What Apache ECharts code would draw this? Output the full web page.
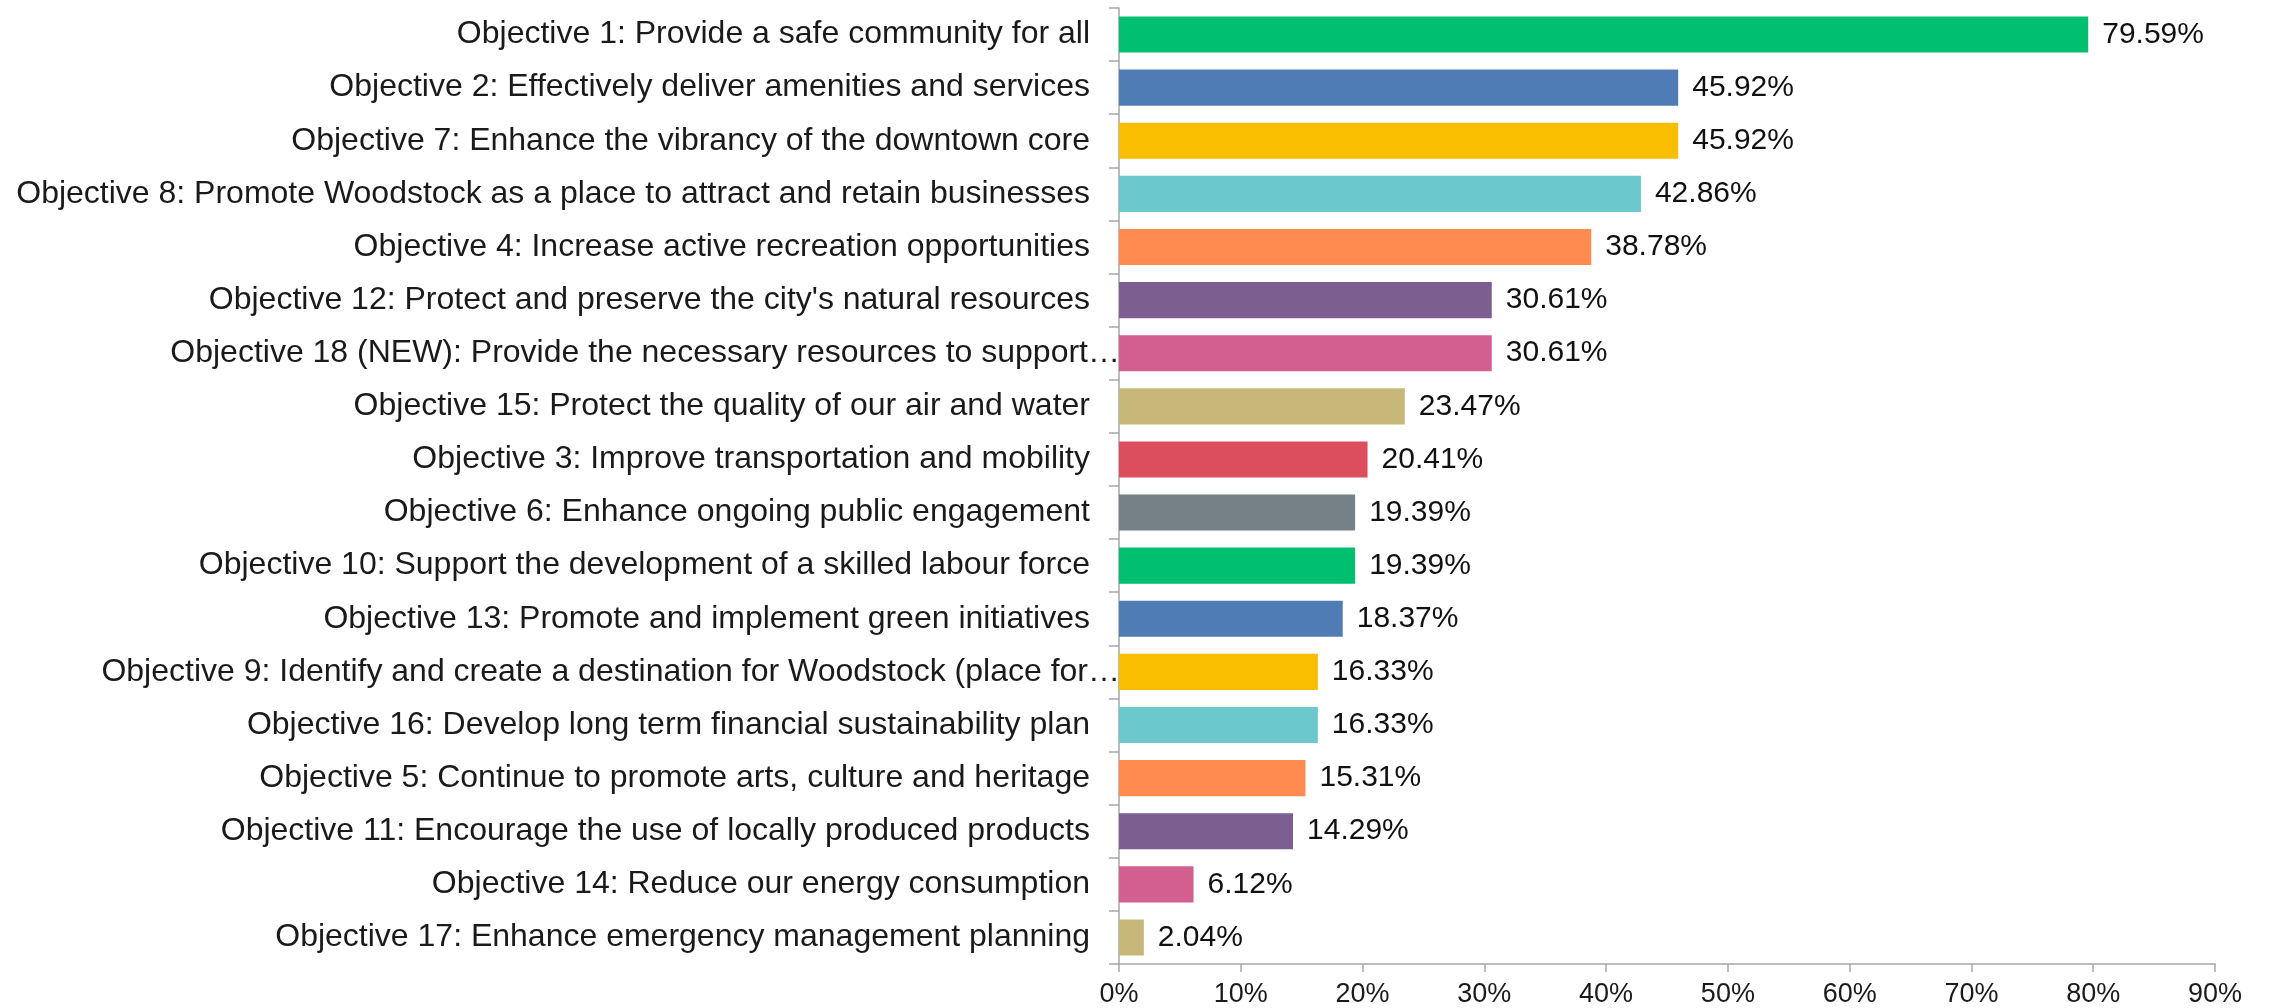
<!DOCTYPE html>
<html>
<head>
<meta charset="utf-8">
<title>Objectives</title>
<script src="https://cdn.jsdelivr.net/npm/echarts@6/dist/echarts.min.js"></script>
<style>
  html, body {
    margin: 0;
    padding: 0;
    background: #fff;
  }
  #chart {
    width: 2270px;
    height: 1008px;
  }
</style>
</head>
<body>
<div id="chart"></div>
<script>
// 目标名称（从上到下）
const categories = [
  'Objective 1: Provide a safe community for all',
  'Objective 2: Effectively deliver amenities and services',
  'Objective 7: Enhance the vibrancy of the downtown core',
  'Objective 8: Promote Woodstock as a place to attract and retain businesses',
  'Objective 4: Increase active recreation opportunities',
  "Objective 12: Protect and preserve the city's natural resources",
  'Objective 18 (NEW): Provide the necessary resources to support…',
  'Objective 15: Protect the quality of our air and water',
  'Objective 3: Improve transportation and mobility',
  'Objective 6: Enhance ongoing public engagement',
  'Objective 10: Support the development of a skilled labour force',
  'Objective 13: Promote and implement green initiatives',
  'Objective 9: Identify and create a destination for Woodstock (place for…',
  'Objective 16: Develop long term financial sustainability plan',
  'Objective 5: Continue to promote arts, culture and heritage',
  'Objective 11: Encourage the use of locally produced products',
  'Objective 14: Reduce our energy consumption',
  'Objective 17: Enhance emergency management planning'
]
// 百分比
const values = [79.59, 45.92, 45.92, 42.86, 38.78, 30.61, 30.61, 23.47, 20.41, 19.39, 19.39, 18.37, 16.33, 16.33, 15.31, 14.29, 6.12, 2.04]
// 每根柱子的颜色
const barColors = [
  '#00bf6f', '#507cb6', '#f9be00', '#6bc8cd', '#ff8b4f', '#7d5e90',
  '#d25f90', '#c7b879', '#dc4d5e', '#768087', '#00bf6f', '#507cb6',
  '#f9be00', '#6bc8cd', '#ff8b4f', '#7d5e90', '#d25f90', '#c7b879'
]
const xTicks = [0, 10, 20, 30, 40, 50, 60, 70, 80, 90]

let myChart = echarts.init(document.getElementById('chart'))
let option = {
  backgroundColor: '#fff',
  animation: false,
  textStyle: {
    fontFamily: 'Liberation Sans, Arial, sans-serif'
  },
  grid: {
    left: 1119,
    right: 55,
    top: 8,
    bottom: 43,
    containLabel: false
  },
  xAxis: {
    type: 'value',
    min: xTicks[0],
    max: xTicks[xTicks.length - 1],
    interval: 10,
    axisLine: {
      show: true,
      lineStyle: { color: '#a6a6a6', width: 1.5 }
    },
    axisTick: {
      show: true,
      length: 8,
      lineStyle: { color: '#a6a6a6', width: 1.5 }
    },
    splitLine: { show: false },
    axisLabel: {
      color: '#1a1a1a',
      fontSize: 27,
      margin: 17,
      formatter: v => v + '%'
    }
  },
  yAxis: {
    type: 'category',
    data: categories,
    inverse: true,
    axisLine: {
      show: true,
      lineStyle: { color: '#a6a6a6', width: 1.5 }
    },
    axisTick: {
      show: true,
      length: 10,
      lineStyle: { color: '#a6a6a6', width: 1.5 }
    },
    axisLabel: {
      color: '#1a1a1a',
      fontSize: 32,
      margin: 29,
      // 截断的标签：省略号悬出到轴线
      formatter: v => v.endsWith('…') ? v.slice(0, -1) + '{e|…}' : v,
      rich: {
        e: {
          fontSize: 32,
          color: '#1a1a1a',
          padding: [0, -30, 0, 0]
        }
      }
    }
  },
  series: [
    {
      type: 'bar',
      data: values.map((v, i) => ({
        value: v,
        itemStyle: { color: barColors[i] }
      })),
      barCategoryGap: '32%',
      label: {
        show: true,
        position: 'right',
        distance: 14,
        color: '#111',
        fontSize: 30,
        formatter: p => p.value.toFixed(2) + '%'
      }
    }
  ]
}
myChart.setOption(option)
</script>
</body>
</html>
